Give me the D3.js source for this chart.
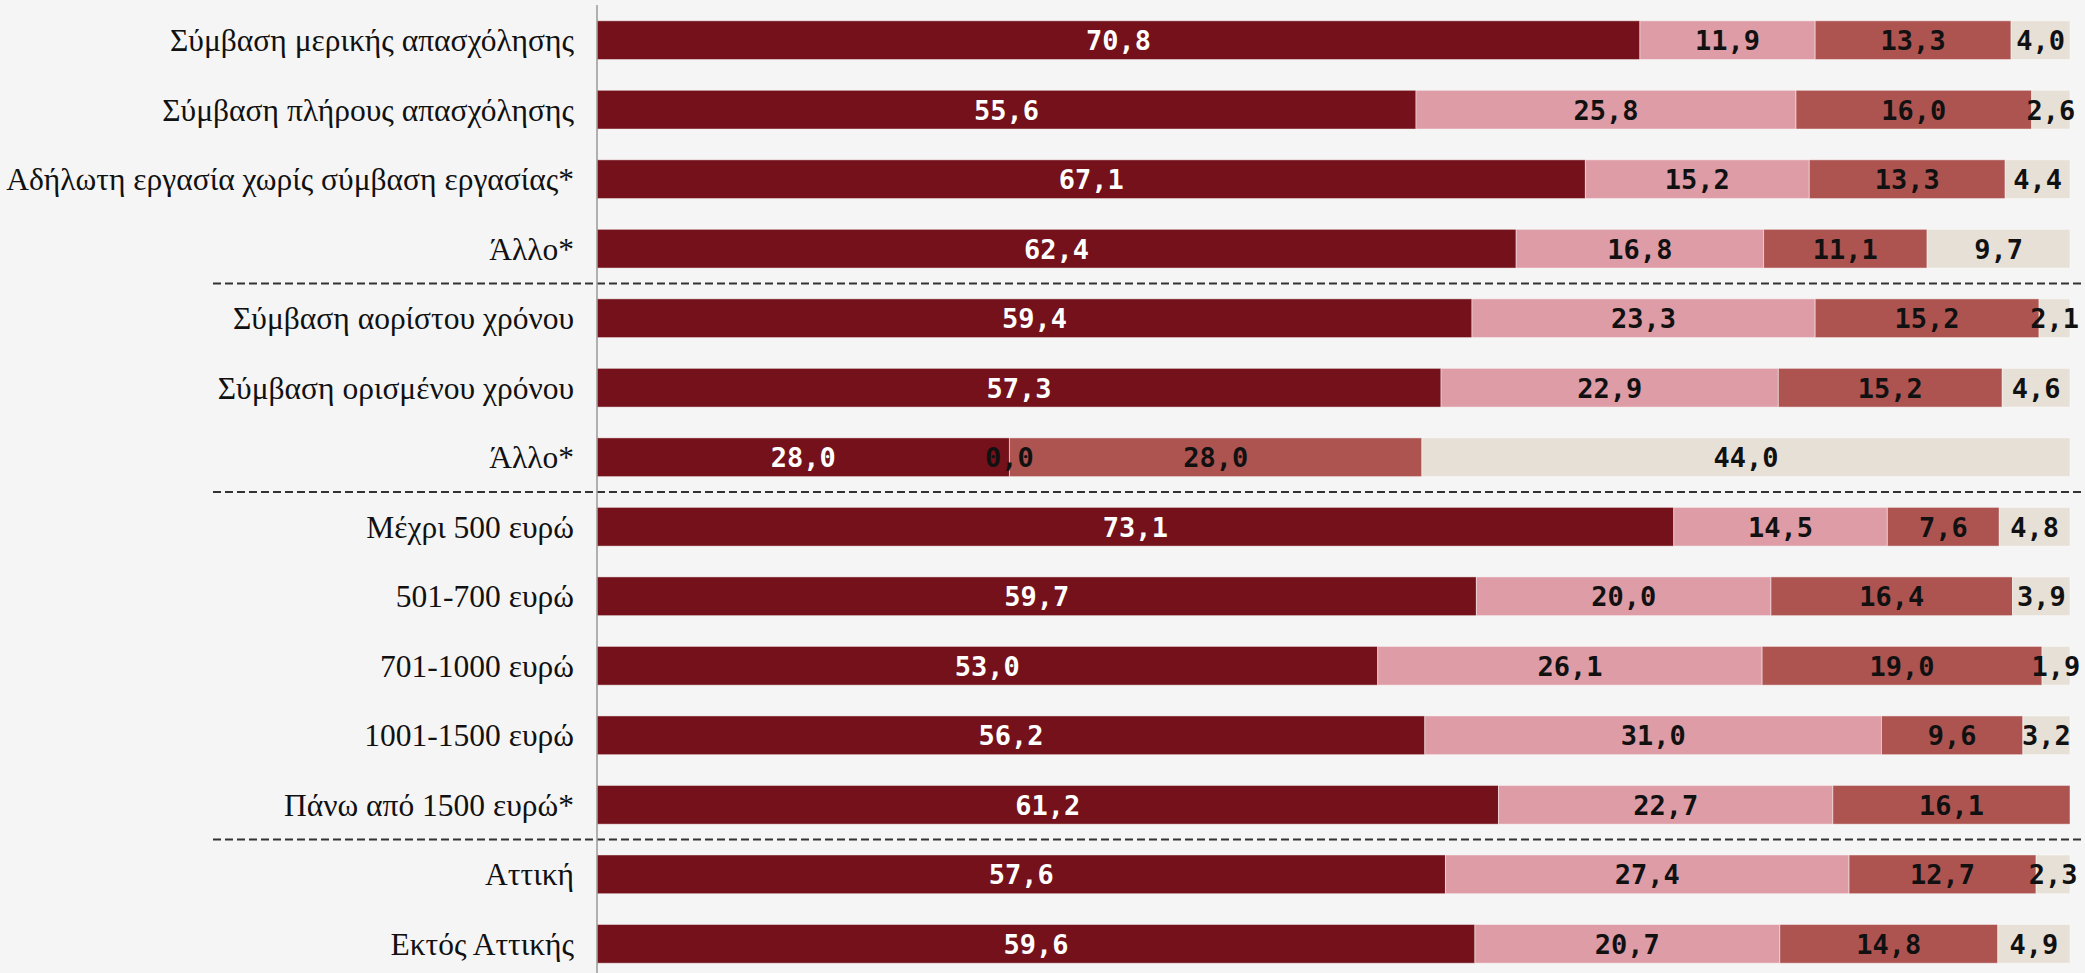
<!DOCTYPE html>
<html>
<head>
<meta charset="utf-8">
<script src="https://cdn.jsdelivr.net/npm/d3@7"></script>
<style>
  html, body { margin: 0; padding: 0; background: #f5f5f5; }
  svg { display: block; }
</style>
</head>
<body>
<svg id="chart" width="2085" height="973"></svg>
<script>
const categories = [
  "Σύμβαση μερικής απασχόλησης",
  "Σύμβαση πλήρους απασχόλησης",
  "Αδήλωτη εργασία χωρίς σύμβαση εργασίας*",
  "Άλλο*",
  "Σύμβαση αορίστου χρόνου",
  "Σύμβαση ορισμένου χρόνου",
  "Άλλο*",
  "Μέχρι 500 ευρώ",
  "501-700 ευρώ",
  "701-1000 ευρώ",
  "1001-1500 ευρώ",
  "Πάνω από 1500 ευρώ*",
  "Αττική",
  "Εκτός Αττικής"
];
const series1 = [70.8, 55.6, 67.1, 62.4, 59.4, 57.3, 28.0, 73.1, 59.7, 53.0, 56.2, 61.2, 57.6, 59.6];
const series2 = [11.9, 25.8, 15.2, 16.8, 23.3, 22.9, 0.0, 14.5, 20.0, 26.1, 31.0, 22.7, 27.4, 20.7];
const series3 = [13.3, 16.0, 13.3, 11.1, 15.2, 15.2, 28.0, 7.6, 16.4, 19.0, 9.6, 16.1, 12.7, 14.8];
const series4 = [4.0, 2.6, 4.4, 9.7, 2.1, 4.6, 44.0, 4.8, 3.9, 1.9, 3.2, null, 2.3, 4.9];
const groupBreaks = [3, 6, 11]; // dashed separators after these row indices

const seriesList = [series1, series2, series3, series4];
const colors = ["#74111a", "#de9ca6", "#ad5451", "#e7e0d7"];
const labelColors = ["#ffffff", "#111111", "#111111", "#111111"];

const svg = d3.select("#chart");
const W = 2085, H = 973;
svg.append("rect").attr("width", W).attr("height", H).attr("fill", "#f5f5f5");

const x = d3.scaleLinear().domain([0, 100]).range([597, 2070]);
const y = d3.scaleBand().domain(d3.range(categories.length)).range([-10, 994]).padding(0.443);

const rows = categories.map((c, i) => {
  let acc = 0;
  const segs = seriesList.map((s, k) => {
    const v = s[i];
    const seg = { k, v, x0: acc, x1: acc + (v || 0) };
    acc += (v || 0);
    return seg;
  });
  return { i, c, segs };
});

groupBreaks.forEach(b => {
  const yy = (y(b) + y.bandwidth() + y(b + 1)) / 2;
  svg.append("line")
    .attr("x1", 213).attr("x2", W)
    .attr("y1", yy).attr("y2", yy)
    .attr("stroke", "#333").attr("stroke-width", 2)
    .attr("stroke-dasharray", "8,4");
});

const g = svg.append("g");
const rowG = g.selectAll("g.row").data(rows).join("g").attr("class", "row");

rowG.selectAll("rect").data(d => d.segs.filter(s => s.v !== null).map(s => ({...s, i: d.i})))
  .join("rect")
  .attr("x", s => x(s.x0))
  .attr("width", s => x(s.x1) - x(s.x0))
  .attr("y", s => y(s.i))
  .attr("height", y.bandwidth())
  .attr("fill", s => colors[s.k])
  .attr("stroke", "rgba(255,255,255,0.45)")
  .attr("stroke-width", 1);

rowG.selectAll("text.val").data(d => d.segs.filter(s => s.v !== null).map(s => ({...s, i: d.i})))
  .join("text")
  .attr("class", "val")
  .attr("x", s => x((s.x0 + s.x1) / 2))
  .attr("y", s => y(s.i) + y.bandwidth() / 2)
  .attr("dy", "0.37em")
  .attr("text-anchor", "middle")
  .attr("font-family", "'DejaVu Sans Mono', monospace")
  .attr("font-weight", "bold")
  .attr("font-size", 27)
  .attr("fill", s => labelColors[s.k])
  .text(s => d3.format(".1f")(s.v).replace(".", ","));

svg.append("g").selectAll("text").data(categories).join("text")
  .attr("x", 574)
  .attr("y", (d, i) => y(i) + y.bandwidth() / 2)
  .attr("dy", "0.35em")
  .attr("text-anchor", "end")
  .attr("font-family", "'Liberation Serif', 'DejaVu Serif', serif")
  .attr("font-size", 31.5)
  .attr("fill", "#111")
  .text(d => d);

svg.append("line")
  .attr("x1", 597).attr("x2", 597)
  .attr("y1", 5).attr("y2", H)
  .attr("stroke", "#999").attr("stroke-width", 1.5);
</script>
</body>
</html>
